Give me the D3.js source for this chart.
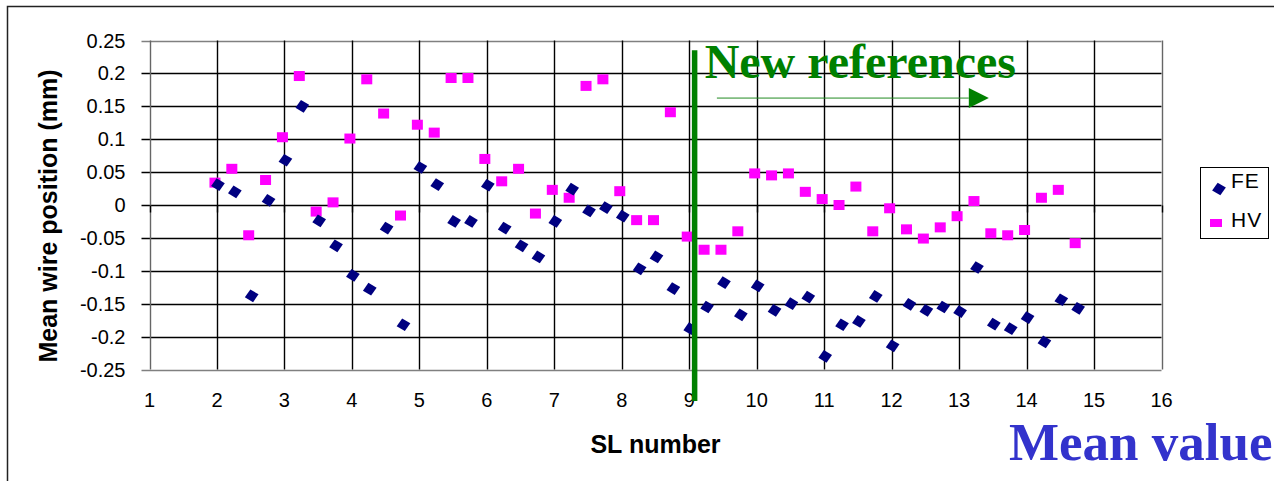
<!DOCTYPE html>
<html>
<head>
<meta charset="utf-8">
<script src="https://cdn.jsdelivr.net/npm/d3@7"></script>
<style>
  body { margin: 0; background: #fff; }
  svg { display: block; font-family: "Liberation Sans", Arial, sans-serif; }
</style>
</head>
<body>
<div id="chart"></div>
<script>
// Data
const slNumber = [2, 2.25, 2.5, 2.75, 3, 3.25, 3.5, 3.75, 4, 4.25, 4.5, 4.75,
  5, 5.25, 5.5, 5.75, 6, 6.25, 6.5, 6.75, 7, 7.25, 7.5, 7.75, 8, 8.25, 8.5, 8.75,
  9, 9.25, 9.5, 9.75, 10, 10.25, 10.5, 10.75, 11, 11.25, 11.5, 11.75, 12, 12.25,
  12.5, 12.75, 13, 13.25, 13.5, 13.75, 14, 14.25, 14.5, 14.75]

const feValues = [0.031, 0.02, -0.138, 0.007, 0.068, 0.15, -0.024, -0.062, -0.107, -0.128, -0.035, -0.182,
  0.057, 0.031, -0.025, -0.025, 0.03, -0.035, -0.062, -0.079, -0.025, 0.024, -0.009, -0.004, -0.017, -0.097, -0.079, -0.127,
  -0.188, -0.155, -0.118, -0.167, -0.123, -0.16, -0.15, -0.14, -0.23, -0.182, -0.177, -0.139, -0.214, -0.151,
  -0.16, -0.155, -0.162, -0.095, -0.181, -0.188, -0.171, -0.208, -0.144, -0.157]

const hvValues = [0.034, 0.055, -0.046, 0.038, 0.103, 0.196, -0.01, 0.004, 0.101, 0.191, 0.139, -0.016,
  0.122, 0.11, 0.193, 0.193, 0.07, 0.036, 0.055, -0.013, 0.023, 0.011, 0.181, 0.191, 0.021, -0.023, -0.023, 0.141,
  -0.048, -0.068, -0.068, -0.04, 0.048, 0.045, 0.048, 0.02, 0.009, 0, 0.028, -0.04, -0.005, -0.037,
  -0.051, -0.034, -0.017, 0.006, -0.043, -0.046, -0.038, 0.011, 0.023, -0.058]

const xTicks = d3.range(1, 17)
const yTicks = [-0.25, -0.2, -0.15, -0.1, -0.05, 0, 0.05, 0.1, 0.15, 0.2, 0.25]
const seriesNames = ['FE', 'HV']

// annotation positions, in data units
const refLineX = 9.08
const refLineY = [-0.298, 0.235]
const arrowX = [9.41, 13.44]
const arrowY = 0.1625

// Canvas
const W = 1274, H = 481
const m = { left: 149.5, right: 112.5, top: 40.5, bottom: 111.5 }
const w = W - m.left - m.right
const h = H - m.top - m.bottom

const svg = d3.select('#chart').append('svg')
  .attr('width', W)
  .attr('height', H)

// outer frame (only top and left edges fall inside the picture)
svg.append('rect')
  .attr('x', 7.5).attr('y', 6.5)
  .attr('width', 1400).attr('height', 600)
  .attr('fill', 'none')
  .attr('stroke', '#222')
  .attr('stroke-width', 1.5)

// Scales
const x = d3.scaleLinear().domain([1, 16]).range([m.left, m.left + w])
const y = d3.scaleLinear().domain([-0.25, 0.25]).range([m.top + h, m.top])

// Grid
const grid = svg.append('g')
grid.selectAll('.hgrid').data(yTicks).enter().append('line')
  .attr('x1', m.left - 8).attr('x2', m.left + w)
  .attr('y1', d => Math.round(y(d)) + 0.5).attr('y2', d => Math.round(y(d)) + 0.5)
  .attr('stroke', (d, i) => (i === 0 || i === yTicks.length - 1) ? '#808080' : '#000')
  .attr('stroke-width', 1.4)
grid.selectAll('.vgrid').data(xTicks).enter().append('line')
  .attr('y1', m.top).attr('y2', m.top + h)
  .attr('x1', d => Math.round(x(d)) + 0.5).attr('x2', d => Math.round(x(d)) + 0.5)
  .attr('stroke', (d, i) => (i === 0 || i === xTicks.length - 1) ? '#666' : '#000')
  .attr('stroke-width', 1.4)
// small tick marks under the zero line
grid.selectAll('.xtick').data(xTicks).enter().append('line')
  .attr('y1', Math.round(y(0)) + 0.5).attr('y2', Math.round(y(0)) + 7.5)
  .attr('x1', d => Math.round(x(d)) + 0.5).attr('x2', d => Math.round(x(d)) + 0.5)
  .attr('stroke', '#000')
  .attr('stroke-width', 1.4)

// Tick labels
svg.append('g').selectAll('text').data(yTicks).enter().append('text')
  .attr('x', m.left - 24)
  .attr('y', d => y(d) + 7)
  .attr('text-anchor', 'end')
  .attr('font-size', 20)
  .attr('fill', '#000')
  .text(d => String(d))

svg.append('g').selectAll('text').data(xTicks).enter().append('text')
  .attr('x', d => x(d))
  .attr('y', m.top + h + 37)
  .attr('text-anchor', 'middle')
  .attr('font-size', 20)
  .attr('fill', '#000')
  .text(d => d)

// Axis titles
svg.append('text')
  .attr('x', m.left + w / 2)
  .attr('y', 453)
  .attr('text-anchor', 'middle')
  .attr('font-size', 25)
  .attr('font-weight', 'bold')
  .text('SL number')

svg.append('text')
  .attr('transform', 'translate(57,216) rotate(-90)')
  .attr('text-anchor', 'middle')
  .attr('font-size', 25)
  .attr('font-weight', 'bold')
  .text('Mean wire position (mm)')

// Markers
const diamond = 'M0,-6.5L7,0L0,6.5L-7,0Z'
const data = slNumber.map((s, i) => ({ s, fe: feValues[i], hv: hvValues[i] }))

svg.append('g').selectAll('rect').data(data).enter().append('rect')
  .attr('x', d => x(d.s) - 7.5)
  .attr('y', d => y(d.hv) - 5)
  .attr('width', 11)
  .attr('height', 10)
  .attr('fill', '#ff00ff')

svg.append('g').selectAll('path').data(data).enter().append('path')
  .attr('d', diamond)
  .attr('transform', d => `translate(${x(d.s) + 1},${y(d.fe)}) rotate(-12)`)
  .attr('fill', '#000080')

// New references annotation
svg.append('line')
  .attr('x1', x(refLineX)).attr('x2', x(refLineX))
  .attr('y1', y(refLineY[0])).attr('y2', y(refLineY[1]))
  .attr('stroke', '#008000')
  .attr('stroke-width', 5.5)

svg.append('text')
  .attr('x', x(refLineX) + 10)
  .attr('y', 78)
  .attr('font-family', '"Liberation Serif", "Times New Roman", serif')
  .attr('font-weight', 'bold')
  .attr('font-size', 48)
  .attr('fill', '#008000')
  .text('New references')

svg.append('line')
  .attr('x1', x(arrowX[0])).attr('x2', x(arrowX[1]) - 20)
  .attr('y1', y(arrowY)).attr('y2', y(arrowY))
  .attr('stroke', '#228b22')
  .attr('stroke-width', 1)
svg.append('path')
  .attr('d', `M${x(arrowX[1]) - 20},${y(arrowY) - 10}L${x(arrowX[1])},${y(arrowY)}L${x(arrowX[1]) - 20},${y(arrowY) + 10}Z`)
  .attr('fill', '#008000')

// Legend
const legend = svg.append('g')
legend.append('rect')
  .attr('x', 1200.5).attr('y', 167.5)
  .attr('width', 68).attr('height', 71)
  .attr('fill', '#fff')
  .attr('stroke', '#000')
legend.append('path')
  .attr('d', diamond)
  .attr('transform', 'translate(1219,189) rotate(-12)')
  .attr('fill', '#000080')
legend.append('rect')
  .attr('x', 1210).attr('y', 219)
  .attr('width', 12).attr('height', 8)
  .attr('fill', '#ff00ff')
legend.selectAll('text').data(seriesNames).enter().append('text')
  .attr('x', 1231)
  .attr('y', (d, i) => 188 + i * 39)
  .attr('font-size', 21)
  .attr('letter-spacing', 1)
  .text(d => d)

// Mean value caption
svg.append('text')
  .attr('x', 1009)
  .attr('y', 460)
  .attr('font-family', '"Liberation Serif", "Times New Roman", serif')
  .attr('font-weight', 'bold')
  .attr('font-size', 53)
  .attr('fill', '#3333cc')
  .text('Mean value')
</script>
</body>
</html>
